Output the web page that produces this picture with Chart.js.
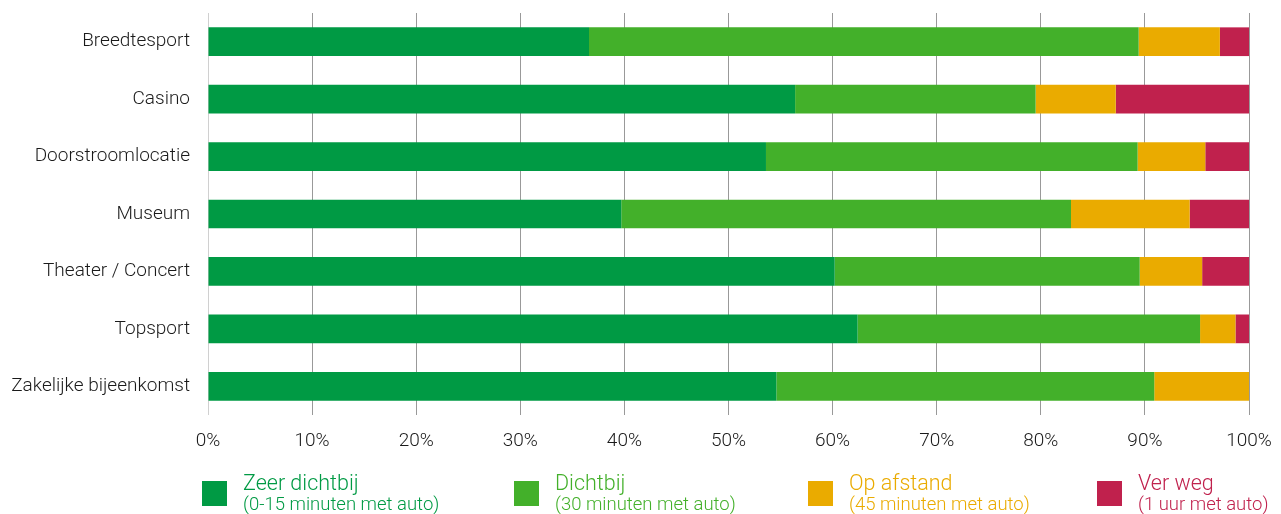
<!DOCTYPE html>
<html>
<head>
<meta charset="utf-8">
<script src="https://cdn.jsdelivr.net/npm/chart.js@4"></script>
<style>
  html, body { margin: 0; padding: 0; background: #fff; }
  #wrap { width: 1281px; height: 514px; position: relative; }
</style>
</head>
<body>
<div id="wrap"><canvas id="chart" width="1281" height="514"></canvas></div>
<script>
const categories = ['Breedtesport', 'Casino', 'Doorstroomlocatie', 'Museum', 'Theater / Concert', 'Topsport', 'Zakelijke bijeenkomst'];
const zeerDichtbij = [36.6, 56.4, 53.6, 39.7, 60.2, 62.4, 54.6];
const dichtbij     = [52.8, 23.1, 35.7, 43.2, 29.3, 32.9, 36.3];
const opAfstand    = [7.8, 7.7, 6.5, 11.4, 6.0, 3.4, 9.1];
const verWeg       = [2.8, 12.8, 4.2, 5.7, 4.5, 1.3, 0];
const seriesNames  = ['Zeer dichtbij', 'Dichtbij', 'Op afstand', 'Ver weg'];
const seriesNotes  = ['(0-15 minuten met auto)', '(30 minuten met auto)', '(45 minuten met auto)', '(1 uur met auto)'];
const colors = ['#009a44', '#43b02a', '#eaab00', '#c0214d'];
const xTicks = ['0%', '10%', '20%', '30%', '40%', '50%', '60%', '70%', '80%', '90%', '100%'];

const FONT = 'Roboto, "Liberation Sans", sans-serif';

// legend drawn under the axis
const legendPlugin = {
  id: 'bottomLegend',
  afterDraw(chart) {
    const ctx = chart.ctx;
    const xs = [202, 514, 808, 1097];
    ctx.save();
    chart.data.datasets.forEach((ds, i) => {
      const x = xs[i];
      ctx.fillStyle = ds.backgroundColor;
      ctx.fillRect(x, 481, 25, 25);
      ctx.textAlign = 'left';
      ctx.textBaseline = 'alphabetic';
      ctx.font = '300 21.5px ' + FONT;
      ctx.fillText(ds.label, x + 41, 490);
      ctx.font = '300 18.5px ' + FONT;
      ctx.fillText(seriesNotes[i], x + 41, 510);
    });
    ctx.restore();
  }
};

const series = [zeerDichtbij, dichtbij, opAfstand, verWeg];

new Chart(document.getElementById('chart'), {
  type: 'bar',
  data: {
    labels: categories,
    datasets: series.map((vals, i) => ({
      label: seriesNames[i],
      data: vals,
      backgroundColor: colors[i],
      borderWidth: 0,
      categoryPercentage: 1,
      barPercentage: 0.5
    }))
  },
  options: {
    indexAxis: 'y',
    responsive: false,
    animation: false,
    layout: { autoPadding: false, padding: { top: 13, right: 32, left: 0, bottom: 0 } },
    plugins: {
      legend: { display: false },
      tooltip: { enabled: false }
    },
    scales: {
      x: {
        stacked: true,
        min: 0,
        max: 100,
        afterFit: s => { s.height = 99; s.paddingLeft = 0; s.paddingRight = 0; },
        border: { display: false },
        grid: {
          drawTicks: false,
          color: c => c.index === 0 ? '#d0d0d0' : '#999999',
          lineWidth: 1
        },
        ticks: {
          stepSize: 10,
          padding: 15,
          color: '#1a1a1a',
          font: { family: FONT, size: 19, weight: 300 },
          callback: (v, i) => xTicks[i]
        }
      },
      y: {
        stacked: true,
        afterFit: s => { s.width = 208; s.paddingTop = 0; s.paddingBottom = 0; },
        border: { display: false },
        grid: { display: false, drawTicks: false },
        ticks: {
          padding: 18,
          color: '#1a1a1a',
          font: { family: FONT, size: 19, weight: 300 }
        }
      }
    }
  },
  plugins: [legendPlugin]
});
</script>
</body>
</html>
